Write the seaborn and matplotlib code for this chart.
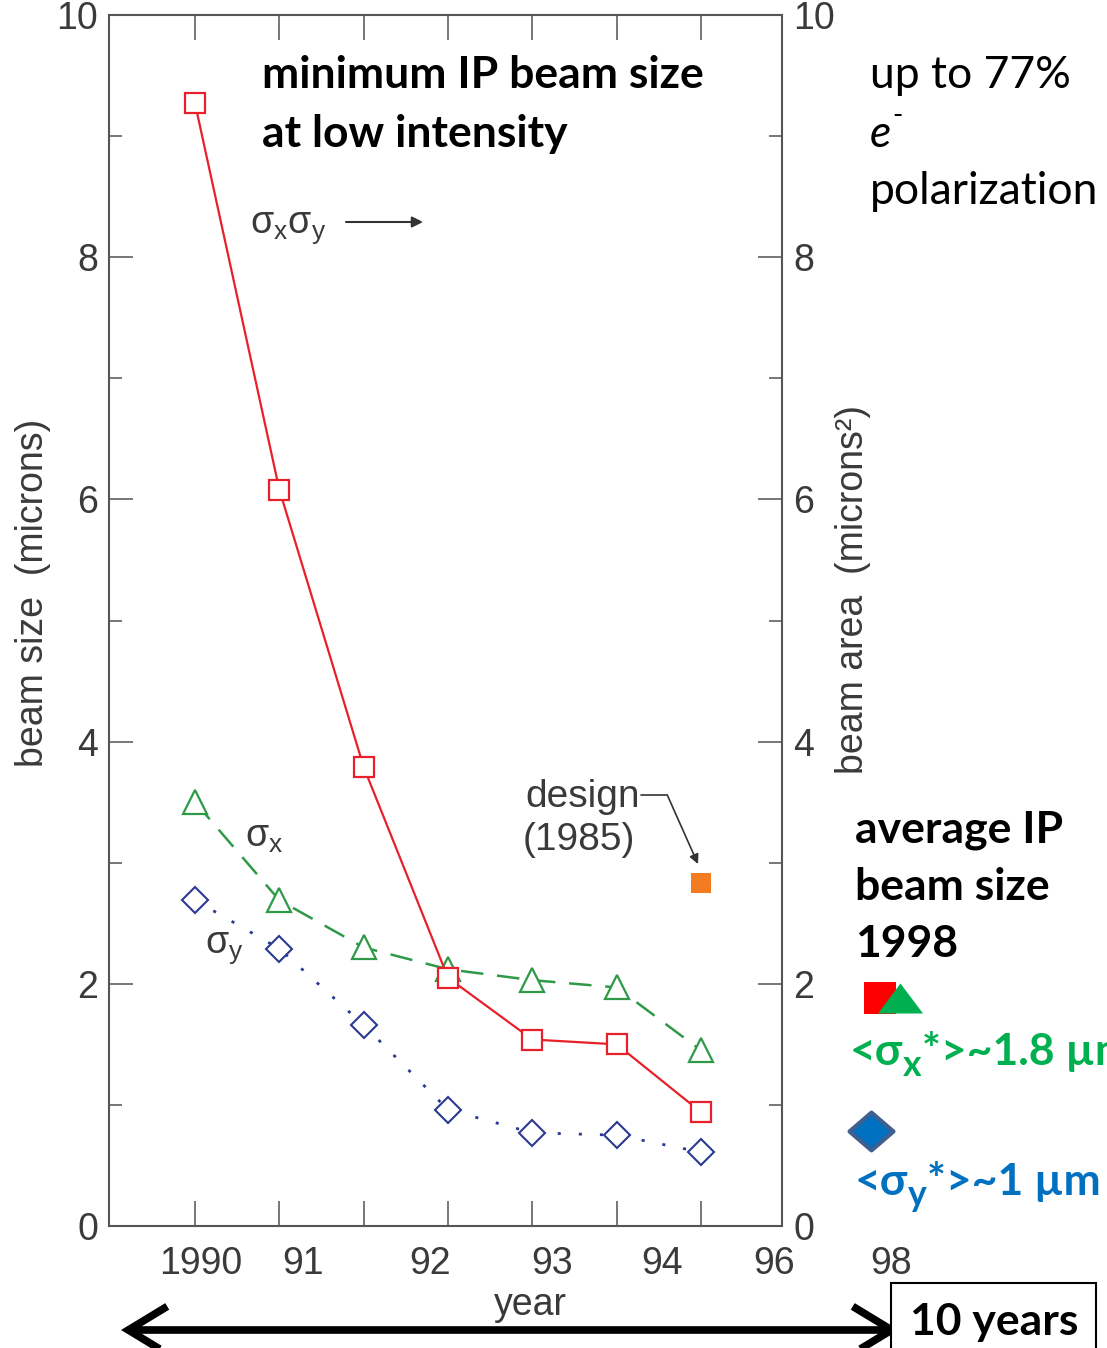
import matplotlib
matplotlib.use("Agg")
import matplotlib.pyplot as plt
import matplotlib.transforms as mtransforms
import numpy as np
import pandas as pd
import seaborn as sns
from matplotlib.path import Path
from matplotlib.patches import Rectangle

# ---------------- data ----------------
year_labels = ["1990", "91", "92", "93", "94", "96", "98"]
x_idx = [0, 1, 2, 3, 4, 5, 6]
sigma_xy = [9.27, 6.08, 3.79, 2.05, 1.54, 1.50, 0.94]   # beam area (red squares)
sigma_x = [3.50, 2.69, 2.30, 2.12, 2.03, 1.97, 1.45]    # green triangles
sigma_y = [2.69, 2.29, 1.66, 0.96, 0.77, 0.75, 0.61]    # blue diamonds
design_x = [6]
design_val = [2.83]
avg98_sq_x, avg98_sq = [8.12], [1.88]
avg98_tri_x, avg98_tri = [8.36], [1.88]
avg98_dia_x, avg98_dia = [8.02], [0.785]
ytick_vals = [0, 2, 4, 6, 8, 10]
ytick_minor = [1, 3, 5, 7, 9]
year_label_pos = [0.07, 1.28, 2.79, 4.23, 5.54, 6.87, 8.25]

# ---------------- style ----------------
sns.set_style("white")
GRAY_FAM = ["Liberation Sans", "DejaVu Sans"]
BOLD_FAM = ["Lato", "DejaVu Sans"]
plt.rcParams["font.family"] = GRAY_FAM
plt.rcParams["mathtext.fontset"] = "custom"
plt.rcParams["mathtext.rm"] = "Liberation Sans"
plt.rcParams["mathtext.it"] = "Liberation Sans:italic"

W, H = 1107, 1348
fig = plt.figure(figsize=(W / 100, H / 100), dpi=100)
ax = fig.add_axes([109 / W, 1 - 1226 / H, (782 - 109) / W, (1226 - 15) / H])


def P(x, y):
    return (x / W, 1 - y / H)


RED = "#E8202A"
GREEN = "#2E9A47"
NAVY = "#2B3990"
TXT = "#3a3a3a"

df = pd.DataFrame({"x": x_idx, "sxy": sigma_xy, "sx": sigma_x, "sy": sigma_y})

sns.lineplot(data=df, x="x", y="sy", ax=ax, color=NAVY, lw=2.0,
             linestyle=(0, (1.1, 6.5)), marker="D", markersize=13.5,
             markerfacecolor="white", markeredgecolor=NAVY,
             markeredgewidth=1.5, errorbar=None, zorder=3)
sns.lineplot(data=df, x="x", y="sx", ax=ax, color=GREEN, lw=1.8,
             linestyle=(0, (9, 5.5)), marker="^", markersize=17,
             markerfacecolor="white", markeredgecolor=GREEN,
             markeredgewidth=1.6, errorbar=None, zorder=4)
sns.lineplot(data=df, x="x", y="sxy", ax=ax, color=RED, lw=1.6,
             linestyle="-", marker="s", markersize=14,
             markerfacecolor="white", markeredgecolor=RED,
             markeredgewidth=1.6, errorbar=None, zorder=5)

sns.scatterplot(x=design_x, y=design_val, ax=ax, marker="s", s=210,
                color="#F47B20", linewidth=0, zorder=6)

# 1998 average markers (outside the axes, at the "98" column)
tri_path = Path([(-1, -0.667), (1, -0.667), (0, 0.667), (-1, -0.667)],
                [Path.MOVETO, Path.LINETO, Path.LINETO, Path.CLOSEPOLY])
dia_path = Path([(-1, 0), (0, 0.86), (1, 0), (0, -0.86), (-1, 0)],
                [Path.MOVETO, Path.LINETO, Path.LINETO, Path.LINETO, Path.CLOSEPOLY])
sns.scatterplot(x=avg98_sq_x, y=avg98_sq, ax=ax, marker="s", s=500,
                color="#FF0000", edgecolor="#FF0000", linewidth=0,
                clip_on=False, zorder=6)
sns.scatterplot(x=avg98_tri_x, y=avg98_tri, ax=ax, marker=tri_path, s=1050,
                color="#00B050", edgecolor="#00B050", linewidth=0,
                clip_on=False, zorder=7)
sns.scatterplot(x=avg98_dia_x, y=avg98_dia, ax=ax, marker=dia_path, s=1000,
                color="#0070C0", edgecolor="#3F5F8F", linewidth=3,
                clip_on=False, zorder=7)

ax.set_xlim(-1.02, 6.96)
ax.set_ylim(0, 10)
ax.set_xlabel("")
ax.set_ylabel("")
ax.set_xticks(x_idx)
ax.set_xticklabels([])
ax.set_yticks(ytick_vals)
ax.set_yticks(ytick_minor, minor=True)
ax.set_yticklabels([str(v) for v in ytick_vals])

for s in ax.spines.values():
    s.set_color("#555555")
    s.set_linewidth(1.5)

ax.tick_params(axis="x", which="major", direction="in", top=True, bottom=True,
               length=18, width=1.4, color="#777777", labelbottom=False)
ax.tick_params(axis="y", which="major", direction="in", left=True, right=True,
               length=17, width=1.4, color="#777777", labelleft=True,
               labelright=True, labelsize=27, labelcolor=TXT, pad=8)
ax.tick_params(axis="y", which="minor", direction="in", left=True, right=True,
               length=9.5, width=1.4, color="#777777")

# year tick labels (placed as in the reference)
xlab_tr = mtransforms.blended_transform_factory(ax.transData, fig.transFigure)
for lab, xp in zip(year_labels, year_label_pos):
    ax.text(xp, P(0, 1274)[1], lab, transform=xlab_tr,
            ha="center", va="baseline", fontsize=27, color=TXT, clip_on=False)

fig.text(*P(530, 1315), "year", ha="center", va="baseline", fontsize=27, color=TXT)
fig.text(*P(33, 593), "beam size  (microns)", rotation=90, ha="center", va="center",
         fontsize=27, color=TXT)
fig.text(*P(853, 590), "beam area  (microns²)", rotation=90, ha="center", va="center",
         fontsize=27, color=TXT)

# gray series labels
fig.text(*P(250, 233), r"$\mathrm{\sigma_x\sigma_y}$", fontsize=27, color=TXT, va="baseline")
ax.annotate("", xy=P(423, 222), xytext=P(346, 222), xycoords="figure fraction",
            textcoords="figure fraction",
            arrowprops=dict(arrowstyle="-|>", lw=1.5, color="#333333",
                            mutation_scale=16, shrinkA=0, shrinkB=0))
fig.text(*P(245, 847), r"$\mathrm{\sigma_x}$", fontsize=27, color=TXT, va="baseline")
fig.text(*P(205, 953), r"$\mathrm{\sigma_y}$", fontsize=27, color=TXT, va="baseline")

fig.text(*P(525, 807), "design", fontsize=28, color=TXT, va="baseline")
fig.text(*P(523, 850), "(1985)", fontsize=28, color=TXT, va="baseline")
ax.annotate("", xy=P(698, 864), xytext=P(641, 795), xycoords="figure fraction",
            textcoords="figure fraction",
            arrowprops=dict(arrowstyle="-|>", lw=1.2, color="#333333",
                            mutation_scale=14, shrinkA=0, shrinkB=0,
                            connectionstyle="angle,angleA=0,angleB=-66,rad=0"))

# bold black annotations
for txt, yb in [("minimum IP beam size", 88), ("at low intensity", 147)]:
    fig.text(*P(262, yb), txt, fontsize=32, fontweight="bold", family=BOLD_FAM,
             color="black", va="baseline")
for txt, yb in [("average IP", 843), ("beam size", 900), ("1998", 957)]:
    fig.text(*P(855, yb), txt, fontsize=32, fontweight="bold", family=BOLD_FAM,
             color="black", va="baseline")

fig.text(*P(870, 88), "up to 77%", fontsize=32, family=BOLD_FAM, color="black", va="baseline")
fig.text(*P(870, 147), "e", fontsize=32, style="italic", family=BOLD_FAM, color="black", va="baseline")
fig.text(*P(892, 124), "-", fontsize=20, family=BOLD_FAM, color="black", va="baseline")
fig.text(*P(870, 204), "polarization", fontsize=32, family=BOLD_FAM, color="black", va="baseline")


def chain(x, y, pieces, color, size):
    first = prev = None
    for txt, scale, dy in pieces:
        kw = dict(color=color, fontsize=size * scale, fontweight="bold",
                  family=BOLD_FAM, ha="left", annotation_clip=False)
        if prev is None:
            t = ax.annotate(txt, xy=P(x, y), xycoords="figure fraction", va="baseline", **kw)
            first = t
        else:
            t = ax.annotate(txt, xy=(1, 0), xycoords=(prev, first), xytext=(0, dy),
                            textcoords="offset points", va="bottom", **kw)
        prev = t


chain(850, 1065, [("<σ", 1, 0), ("x", 0.8, -7), ("*", 1, 1), (">~1.8 µm", 1, 0)],
      "#00B050", 32)
chain(855, 1195, [("<σ", 1, 0), ("y", 0.8, -7), ("*", 1, 1), (">~1 µm", 1, 0)],
      "#0070C0", 32)

# bottom double arrow and "10 years" box
fig.patches.append(Rectangle((891 / W, -0.02), 205 / W, 0.02 + (1348 - 1283) / H,
                             transform=fig.transFigure, fill=True, fc="white",
                             ec="black", lw=1.5, zorder=1))
fig.text(*P(910, 1335), "10 years", fontsize=32, fontweight="bold", family=BOLD_FAM,
         color="black", va="baseline", zorder=2)
ax.annotate("", xy=P(899, 1330), xytext=P(121, 1330), xycoords="figure fraction",
            textcoords="figure fraction",
            arrowprops=dict(arrowstyle="<->,head_length=2.8,head_width=1.7", lw=5.5,
                            color="black", mutation_scale=10, shrinkA=0, shrinkB=0,
                            joinstyle="miter", capstyle="butt"),
            annotation_clip=False)

fig.savefig("out.png", dpi=100)
